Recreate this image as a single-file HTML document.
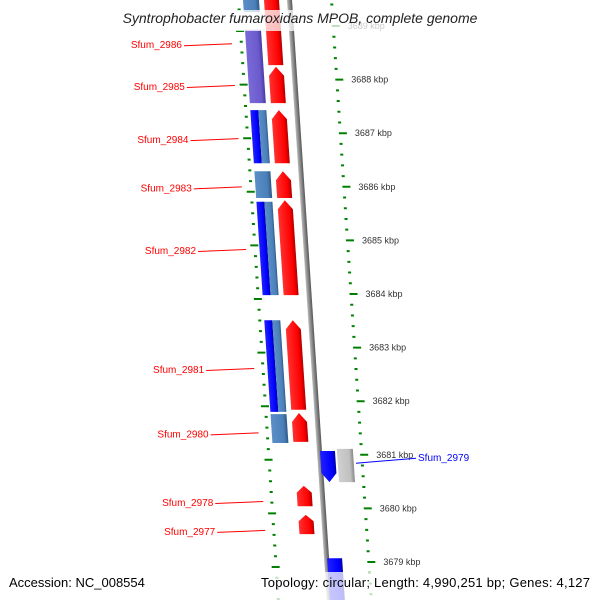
<!DOCTYPE html>
<html><head><meta charset="utf-8"><style>
body{margin:0;background:#fff}
svg{display:block;font-family:"Liberation Sans","DejaVu Sans",sans-serif}
</style></head><body>
<svg id="c" width="600" height="600" viewBox="0 0 600 600">
<defs>
<linearGradient id="gRed" x1="0" x2="1"><stop offset="0" stop-color="#ff3030"/><stop offset="0.75" stop-color="#ff0000"/><stop offset="1" stop-color="#b00000"/></linearGradient>
<linearGradient id="gBlue" x1="0" x2="1"><stop offset="0" stop-color="#2020ff"/><stop offset="0.75" stop-color="#0000ff"/><stop offset="1" stop-color="#0000a0"/></linearGradient>
<linearGradient id="gSteel" x1="0" x2="1"><stop offset="0" stop-color="#5a8fc8"/><stop offset="0.75" stop-color="#4a7fb8"/><stop offset="1" stop-color="#2e5a88"/></linearGradient>
<linearGradient id="gPurple" x1="0" x2="1"><stop offset="0" stop-color="#7a6ad8"/><stop offset="0.75" stop-color="#6a5acd"/><stop offset="1" stop-color="#4a3aa0"/></linearGradient>
<linearGradient id="gGray" x1="0" x2="1"><stop offset="0" stop-color="#d0d0d0"/><stop offset="0.75" stop-color="#c0c0c0"/><stop offset="1" stop-color="#888"/></linearGradient>
<linearGradient id="gBack" x1="0" x2="1"><stop offset="0" stop-color="#bbb"/><stop offset="0.5" stop-color="#888"/><stop offset="1" stop-color="#555"/></linearGradient>
</defs>
<g id="sk" transform="skewX(3.8)"></g>
<g id="lab"></g>
<rect x="0" y="10" width="600" height="21" fill="#fff" opacity="0.75"/>
<rect x="0" y="572" width="600" height="28" fill="#fff" opacity="0.75"/>
<text x="300" y="23" text-anchor="middle" font-size="14" font-style="italic" fill="#222">Syntrophobacter fumaroxidans MPOB, complete genome</text>
<text x="9" y="587" font-size="13" fill="#000">Accession: NC_008554</text>
<text x="590" y="587" text-anchor="end" font-size="13" fill="#000" textLength="329">Topology: circular; Length: 4,990,251 bp; Genes: 4,127</text>
</svg>
<script>
const tickKbp=[3689,3688,3687,3686,3685,3684,3683,3682,3681,3680,3679];
const tickLabels=["3689 kbp","3688 kbp","3687 kbp","3686 kbp","3685 kbp","3684 kbp","3683 kbp","3682 kbp","3681 kbp","3680 kbp","3679 kbp"];
const geneStart=[3689.49,3688.24,3687.43,3686.29,3685.75,3683.51,3681.78,3680.42,3679.88,3689.49,3688.93,3687.43,3687.43,3686.29,3685.72,3685.72,3683.51,3683.51,3681.76,3681.07,3681.11,3679.07];
const geneEnd=[3688.27,3687.56,3686.44,3685.79,3683.98,3681.84,3681.24,3680.04,3679.52,3689.26,3687.56,3686.44,3686.44,3685.79,3683.98,3683.98,3681.80,3681.80,3681.22,3680.49,3680.49,3678.29];
const geneLane=["red","red","red","red","red","red","red","red","red","left","left","leftA","leftB","left","leftA","leftB","leftA","leftB","left","rightA","rightB","rightA"];
const geneColor=["gRed","gRed","gRed","gRed","gRed","gRed","gRed","gRed","gRed","gSteel","gPurple","gBlue","gSteel","gSteel","gBlue","gSteel","gBlue","gSteel","gSteel","gBlue","gGray","gBlue"];
const geneHead=["none","up","up","up","up","up","up","up","up","none","none","none","none","none","none","none","none","none","none","down","none","none"];
const labelNames=["Sfum_2986","Sfum_2985","Sfum_2984","Sfum_2983","Sfum_2982","Sfum_2981","Sfum_2980","Sfum_2978","Sfum_2977","Sfum_2979"];
const labelKbp=[3688.66,3687.88,3686.89,3685.99,3684.82,3682.60,3681.40,3680.12,3679.58,3681.03];
const labelSide=["l","l","l","l","l","l","l","l","l","r"];

const NS="http://www.w3.org/2000/svg";
const yOf=k=>26+(3689-k)*53.6;
const kOf=y=>3689-(y-26)/53.6;
const sk=document.getElementById('sk'), lab=document.getElementById('lab');
const T=Math.tan(3.8*Math.PI/180);
const lanes={red:[264,279],left:[243,259],leftA:[243,251],leftB:[251,259],rightA:[290,305],rightB:[307,323]};
function mk(p,tag,at){const e=document.createElementNS(NS,tag);for(const a in at)e.setAttribute(a,at[a]);p.appendChild(e);return e;}

let bb=mk(sk,'rect',{x:287,y:-20,width:5,height:650,fill:'url(#gBack)'});



const kTop=kOf(-20), kBot=kOf(620);
for(let m=Math.ceil(kBot*5);m<=Math.floor(kTop*5);m++){
  const k=m/5, major=(m%5===0), y=yOf(k);
  const len=major?8:3;
  let o=mk(sk,'rect',{x:330,y:y-1,width:len,height:2,fill:'#008000'});
  
  
  let i=mk(sk,'rect',{x:major?234:237,y:y+4,width:len,height:2,fill:'#008000'});
  
  
}
tickKbp.forEach((k,i)=>{
  const y=yOf(k);
  let t=mk(lab,'text',{x:346+y*T,y:y+3,'font-size':9,fill:'#333'});
  t.textContent=tickLabels[i];
  
  
});

geneStart.forEach((s,i)=>{
  const [x0,x1]=lanes[geneLane[i]];
  const y0=yOf(s), y1=yOf(geneEnd[i]);
  const h=Math.min(9,(y1-y0)/3);
  let pts;
  if(geneHead[i]==='up') pts=[[x0,y0+h],[(x0+x1)/2,y0],[x1,y0+h],[x1,y1],[x0,y1]];
  else if(geneHead[i]==='down') pts=[[x0,y0],[x1,y0],[x1,y1-h],[(x0+x1)/2,y1],[x0,y1-h]];
  else pts=[[x0,y0],[x1,y0],[x1,y1],[x0,y1]];
  let g=mk(sk,'polygon',{points:pts.map(p=>p.join(',')).join(' '),fill:'url(#'+geneColor[i]+')'});
  
  
});

labelNames.forEach((n,i)=>{
  const y=yOf(labelKbp[i]);
  if(labelSide[i]==='l'){
    const xe=232+(y-44)*0.0683;
    let l=mk(lab,'line',{x1:xe-48,y1:y+1.5,x2:xe,y2:y-0.5,stroke:'#f00','stroke-width':1});
    
    
    let t=mk(lab,'text',{x:xe-50,y:y+4,'text-anchor':'end','font-size':10,fill:'#f00'});
    t.textContent=n;
    
    
  } else {
    let l=mk(lab,'line',{x1:356,y1:y+10,x2:416,y2:y+5,stroke:'#00f','stroke-width':1});
    
    
    let t=mk(lab,'text',{x:418,y:y+8,'font-size':10,fill:'#00f'});
    t.textContent=n;
    
    
  }
});
</script>
</body></html>
